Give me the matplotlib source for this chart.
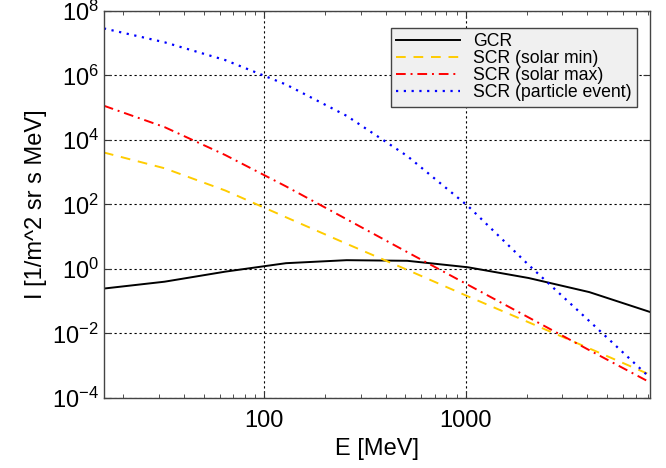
import numpy as np
import matplotlib
matplotlib.use("Agg")
import matplotlib.pyplot as plt

plt.rcParams['font.family'] = ['Liberation Sans', 'DejaVu Sans']
plt.rcParams['mathtext.fontset'] = 'custom'
plt.rcParams['mathtext.rm'] = 'Liberation Sans'
plt.rcParams['mathtext.default'] = 'regular'

# energies [MeV] and fluxes
energy = [16, 32, 64, 128, 256, 512, 1024, 2048, 4096, 8192]
gcr = [0.245, 0.40, 0.82, 1.5, 1.86, 1.78, 1.12, 0.52, 0.19, 0.046]
scr_min = [4070, 1320, 270, 40, 6.0, 0.93, 0.14, 0.022, 0.0034, 0.00052]
scr_max = [1.15e5, 2.5e4, 3400, 363, 34.7, 3.3, 0.32, 0.031, 0.0030, 0.00030]
scr_event = [2.88e7, 1.07e7, 3.0e6, 5.25e5, 5.6e4, 3160, 89, 1.32, 0.024, 0.00042]

xticks = [100, 1000]
yticks = [1e-4, 1e-2, 1e0, 1e2, 1e4, 1e6, 1e8]
ytick_labels = [r'$10^{-4}$', r'$10^{-2}$', r'$10^{0}$', r'$10^{2}$',
                r'$10^{4}$', r'$10^{6}$', r'$10^{8}$']

fig = plt.figure(figsize=(6.66, 4.68), dpi=100)
ax = fig.add_axes([0.156, 0.150, 0.820, 0.8265])

ax.loglog(energy, gcr, '-', color='black', lw=1.4, label='GCR')
ax.loglog(energy, scr_min, '--', color='#ffcc00', lw=1.4, dashes=(5, 4), label='SCR (solar min)')
ax.loglog(energy, scr_max, '-.', color='red', lw=1.4, dashes=(5, 2.5, 1, 2.5), label='SCR (solar max)')
ax.loglog(energy, scr_event, ':', color='blue', lw=1.6, dashes=(1, 2.5), label='SCR (particle event)')

ax.set_xlim(16, 8192)
ax.set_ylim(1e-4, 1e8)

ax.set_xticks(xticks)
ax.set_xticklabels([str(t) for t in xticks])
ax.set_yticks(yticks)
ax.set_yticklabels(ytick_labels)
ax.yaxis.set_minor_locator(matplotlib.ticker.NullLocator())
ax.xaxis.set_minor_locator(matplotlib.ticker.LogLocator(base=10, subs=np.arange(2, 10)))
ax.xaxis.set_minor_formatter(matplotlib.ticker.NullFormatter())

ax.tick_params(which='both', direction='in', top=True, right=True, labelsize=17, color='#333333')
ax.tick_params(which='major', length=5)
ax.tick_params(which='minor', length=3)
ax.tick_params(axis='x', pad=9)

ax.grid(True, which='major', color='black', linestyle=(0, (2, 2.5)), lw=0.8)
for s in ax.spines.values():
    s.set_color('#444444')
    s.set_linewidth(1.0)

ax.set_xlabel('E [MeV]', fontsize=17)
ax.set_ylabel('I [1/m^2 sr s MeV]', fontsize=17)

leg = ax.legend(loc='upper right', bbox_to_anchor=(0.976, 0.956), fontsize=12.7,
                frameon=True, fancybox=False, handlelength=3.6, borderpad=0.3,
                labelspacing=0.0, handletextpad=0.75, borderaxespad=0)
leg.get_frame().set_facecolor('#f0f0f0')
leg.get_frame().set_edgecolor('#444444')
leg.get_frame().set_alpha(1)

fig.savefig('out.png', dpi=100)
